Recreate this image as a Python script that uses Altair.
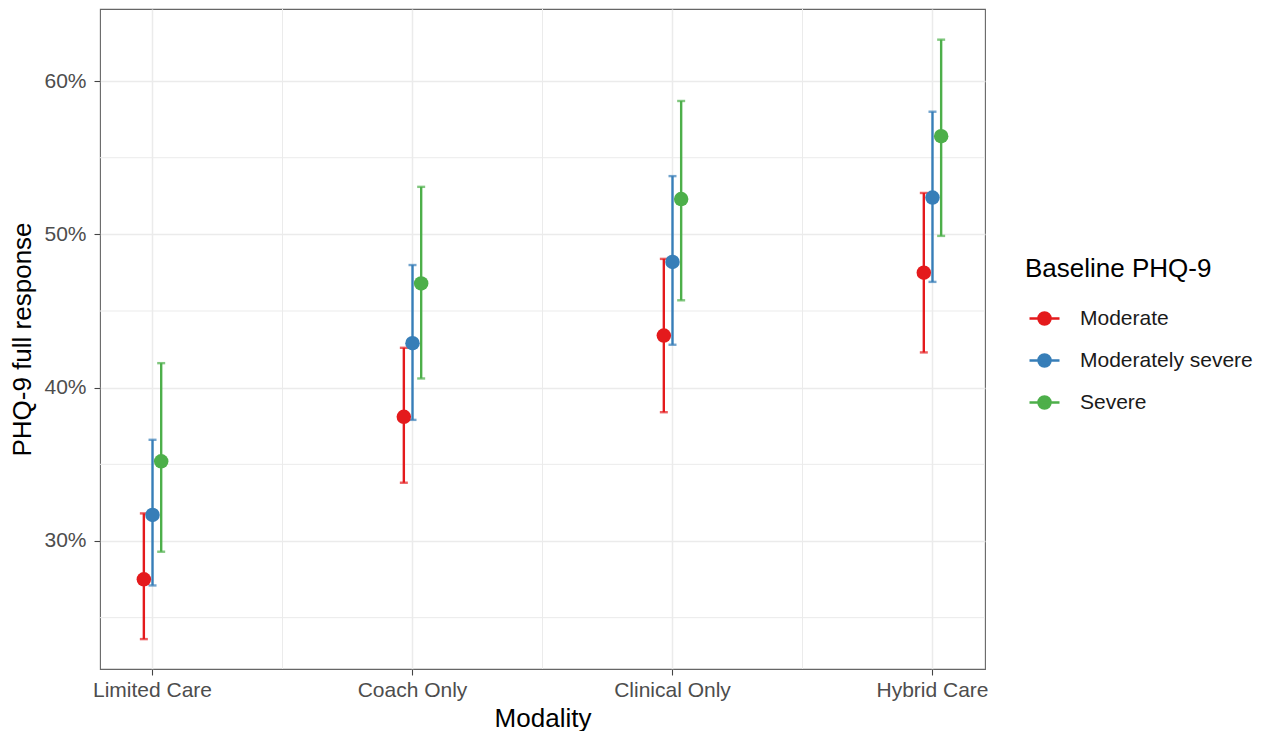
import altair as alt
import pandas as pd

modalities = ["Limited Care", "Coach Only", "Clinical Only", "Hybrid Care"]
severities = ["Moderate", "Moderately severe", "Severe"]
colors = ["#E41A1C", "#377EB8", "#4DAF4A"]

moderate_est = [27.5, 38.1, 43.4, 47.5]
moderate_lo = [23.6, 33.8, 38.4, 42.3]
moderate_hi = [31.8, 42.6, 48.4, 52.7]

modsev_est = [31.7, 42.9, 48.2, 52.4]
modsev_lo = [27.1, 37.9, 42.8, 46.9]
modsev_hi = [36.6, 48.0, 53.8, 58.0]

severe_est = [35.2, 46.8, 52.3, 56.4]
severe_lo = [29.3, 40.6, 45.7, 49.9]
severe_hi = [41.6, 53.1, 58.7, 62.7]

major_y = [30, 40, 50, 60]
minor_y = [25, 35, 45, 55]

rows = []
for sev, est, lo, hi in [
    ("Moderate", moderate_est, moderate_lo, moderate_hi),
    ("Moderately severe", modsev_est, modsev_lo, modsev_hi),
    ("Severe", severe_est, severe_lo, severe_hi),
]:
    for m, e, l, h in zip(modalities, est, lo, hi):
        rows.append({"modality": m, "severity": sev, "est": e, "lo": l, "hi": h})
df = pd.DataFrame(rows)

font = "Liberation Sans"
grid_col = "#EBEBEB"

xscale = alt.Scale(domain=modalities, paddingInner=0.9, paddingOuter=0.152)
yscale = alt.Scale(domain=[21.65, 64.7], nice=False, zero=False)
cscale = alt.Scale(domain=severities, range=colors)
offscale = alt.Scale(domain=severities)

x_enc = alt.X(
    "modality:N",
    scale=xscale,
    sort=modalities,
    title="Modality",
    axis=alt.Axis(
        labelAngle=0,
        labelAlign="center",
        labelFontSize=21,
        labelColor="#4D4D4D",
        labelFont=font,
        labelPadding=15,
        tickColor="#444444",
        tickSize=6,
        tickWidth=1.1,
        domain=False,
        grid=True,
        gridColor=grid_col,
        gridWidth=1.5,
        bandPosition=0.5,
        titleFontSize=26,
        titleFont=font,
        titleFontWeight="normal",
        titleColor="#000000",
        titlePadding=5,
    ),
)

y_enc = alt.Y(
    "est:Q",
    scale=yscale,
    title="PHQ-9 full response",
    axis=alt.Axis(
        values=major_y,
        labelExpr="datum.value + '%'",
        labelFontSize=21,
        labelColor="#4D4D4D",
        labelFont=font,
        labelPadding=8,
        tickColor="#444444",
        tickSize=6,
        tickWidth=1.1,
        domain=False,
        grid=True,
        gridColor=grid_col,
        gridWidth=1.5,
        titleFontSize=26,
        titleFont=font,
        titleFontWeight="normal",
        titleColor="#000000",
        titlePadding=8,
    ),
)

legend_path = "M -1 0 L 1 0 M 0.4 0 A 0.4 0.4 0 1 1 -0.4 0 A 0.4 0.4 0 1 1 0.4 0 Z"

color_enc = alt.Color(
    "severity:N",
    scale=cscale,
    title="Baseline PHQ-9",
    legend=alt.Legend(
        orient="none",
        legendX=925,
        legendY=247,
        titleFontSize=26,
        titleFont=font,
        titleFontWeight="normal",
        titleColor="#000000",
        titlePadding=20,
        titleLimit=400,
        labelFontSize=21,
        labelFont=font,
        labelColor="#1A1A1A",
        labelOffset=19,
        labelLimit=400,
        rowPadding=14,
        symbolType=legend_path,
        symbolSize=900,
        symbolOffset=3,
        symbolStrokeWidth=2.5,
        symbolOpacity=1,
        padding=0,
    ),
)

base = alt.Chart(df)

minor_h = alt.Chart(pd.DataFrame({"v": minor_y})).mark_rule(
    color=grid_col, strokeWidth=1
).encode(y=alt.Y("v:Q", scale=yscale))

minor_v = alt.Chart(pd.DataFrame({"m": modalities[:3]})).mark_rule(
    color=grid_col, strokeWidth=1
).encode(
    x=alt.X("m:N", scale=xscale, sort=modalities),
    xOffset=alt.value(143),
)

bars = base.mark_rule(strokeWidth=2.4).encode(
    x=x_enc,
    xOffset=alt.XOffset("severity:N", scale=offscale, sort=severities),
    y=alt.Y("lo:Q", scale=yscale),
    y2="hi:Q",
    color=color_enc,
)

caps_lo = base.mark_tick(thickness=2.4, size=8, orient="horizontal").encode(
    x=alt.X("modality:N", scale=xscale, sort=modalities),
    xOffset=alt.XOffset("severity:N", scale=offscale, sort=severities),
    y=alt.Y("lo:Q", scale=yscale),
    color=alt.Color("severity:N", scale=cscale, legend=None),
)

caps_hi = base.mark_tick(thickness=2.4, size=8, orient="horizontal").encode(
    x=alt.X("modality:N", scale=xscale, sort=modalities),
    xOffset=alt.XOffset("severity:N", scale=offscale, sort=severities),
    y=alt.Y("hi:Q", scale=yscale),
    color=alt.Color("severity:N", scale=cscale, legend=None),
)

points = base.mark_point(filled=True, size=210, opacity=1).encode(
    x=alt.X("modality:N", scale=xscale, sort=modalities),
    xOffset=alt.XOffset("severity:N", scale=offscale, sort=severities),
    y=y_enc,
    color=alt.Color("severity:N", scale=cscale),
)

chart = (
    alt.layer(minor_h, minor_v, bars, caps_lo, caps_hi, points)
    .properties(
        width=885,
        height=660,
        background="white",
        padding={"left": 1, "top": 0, "right": 0, "bottom": 0},
    )
    .configure_view(stroke="#666666", strokeWidth=1.1)
)

chart.save("out.html", embed_options={"renderer": "svg", "actions": False})
